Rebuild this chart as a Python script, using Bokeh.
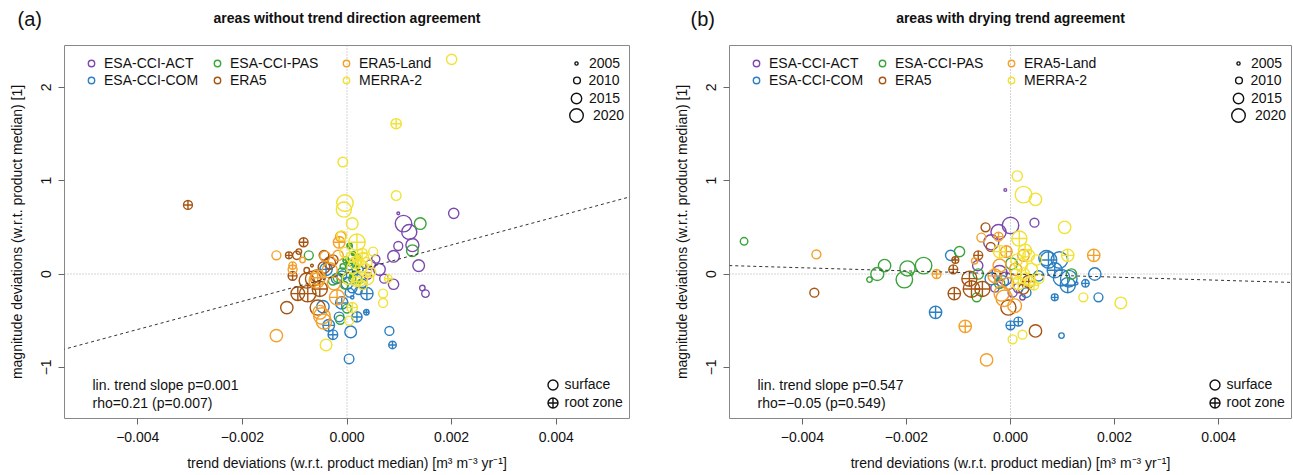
from bokeh.plotting import figure
from bokeh.models import Range1d, FixedTicker, Span, Slope, Label, Legend, LegendItem, ColumnDataSource, Title
from bokeh.layouts import row
from bokeh.embed import file_html
from bokeh.resources import INLINE

FONT = "Liberation Sans"

products = ["ESA-CCI-ACT", "ESA-CCI-COM", "ESA-CCI-PAS", "ERA5", "ERA5-Land", "MERRA-2"]
colors = ["#7b4aae", "#2c7fc0", "#3aa43a", "#a65411", "#f5a02a", "#f1e233"]
legend_years = [2005, 2010, 2015, 2020]

x_ticks = [-0.004, -0.002, 0.0, 0.002, 0.004]
x_tick_labels = ["−0.004", "−0.002", "0.000", "0.002", "0.004"]
y_ticks = [-1, 0, 1, 2]
y_tick_labels = ["−1", "0", "1", "2"]

# points: (trend deviation [1e-3 m3 m-3 yr-1], magnitude deviation, year, layer s=surface r=root zone)
a_act = [(2.04, 0.65, 2015, "s"), (0.98, 0.65, 2004, "s"), (1.08, 0.54, 2024, "s"), (1.19, 0.45, 2022, "s"),
         (1.25, 0.31, 2019, "s"), (0.98, 0.30, 2013, "s"), (0.89, 0.19, 2017, "s"), (1.37, 0.09, 2017, "s"),
         (0.62, 0.05, 2017, "s"), (0.71, -0.05, 2013, "s"), (0.89, -0.11, 2015, "s"), (1.44, -0.15, 2008, "s"),
         (1.50, -0.21, 2011, "s"), (0.45, 0.10, 2014, "s"), (0.55, 0.16, 2012, "s"), (0.40, -0.02, 2010, "s")]
a_com = [(0.04, -0.91, 2014, "s"), (0.81, -0.61, 2013, "s"), (0.87, -0.76, 2011, "r"), (0.38, -0.21, 2018, "r"),
         (0.37, -0.41, 2008, "r"), (0.19, -0.46, 2015, "r"), (0.07, -0.62, 2017, "s"), (-0.35, -0.55, 2017, "r"),
         (-0.27, -0.65, 2014, "r"), (-0.15, -0.46, 2014, "s"), (-0.10, -0.31, 2018, "r"), (-0.46, -0.35, 2018, "s"),
         (-0.40, 0.05, 2018, "r"), (-0.20, -0.05, 2015, "s"), (0.00, -0.10, 2017, "s"), (0.10, -0.15, 2014, "s"),
         (0.20, -0.05, 2013, "s"), (-0.10, -0.02, 2014, "s"), (0.30, -0.10, 2012, "s"), (0.15, 0.00, 2008, "s"),
         (0.10, -0.25, 2005, "s"), (0.05, 0.08, 2010, "s"), (0.25, 0.05, 2009, "s"), (0.22, -0.18, 2011, "s"),
         (0.05, -0.20, 2013, "s")]
a_pas = [(1.40, 0.54, 2017, "s"), (1.25, 0.25, 2017, "s"), (-0.73, 0.20, 2013, "s"), (-0.13, -0.49, 2013, "s"),
         (0.00, -0.37, 2013, "s"), (-0.17, -0.04, 2014, "s"), (-0.27, -0.07, 2013, "s"), (0.05, 0.12, 2009, "s"),
         (0.15, 0.05, 2008, "s"), (0.10, -0.05, 2010, "s"), (-0.10, 0.02, 2012, "s"), (0.20, 0.18, 2008, "s"),
         (-0.05, -0.12, 2011, "s"), (0.25, -0.08, 2006, "s"), (0.05, 0.30, 2008, "r"), (0.12, 0.22, 2006, "r"),
         (-0.02, 0.15, 2009, "r"), (0.08, -0.02, 2005, "r"), (0.18, 0.10, 2006, "r"), (-0.08, 0.08, 2008, "s")]
a_era5 = [(-3.04, 0.74, 2013, "r"), (-1.15, -0.36, 2018, "s"), (-0.56, -0.36, 2022, "s"), (-0.94, -0.21, 2020, "r"),
          (-0.75, -0.21, 2024, "r"), (-0.77, -0.07, 2022, "s"), (-0.52, -0.16, 2022, "r"), (-1.04, -0.02, 2013, "r"),
          (-0.77, 0.04, 2008, "s"), (-0.67, 0.09, 2004, "s"), (-1.11, 0.20, 2010, "r"), (-0.96, 0.20, 2012, "s"),
          (-0.92, 0.24, 2008, "s"), (-0.83, 0.34, 2013, "r"), (-0.44, 0.20, 2014, "s"), (-0.27, 0.15, 2015, "s"),
          (-0.44, 0.07, 2017, "s"), (-0.65, -0.05, 2022, "s"), (-0.58, -0.02, 2017, "s"), (-0.33, 0.12, 2017, "s")]
a_land = [(-1.35, -0.66, 2018, "s"), (-0.48, -0.45, 2024, "s"), (-0.44, -0.51, 2022, "s"), (-0.52, -0.41, 2020, "s"),
          (-0.19, -0.25, 2022, "r"), (-1.04, 0.05, 2013, "s"), (-1.04, 0.09, 2011, "r"), (-1.35, 0.20, 2013, "s"),
          (-0.85, 0.15, 2008, "s"), (-0.15, 0.34, 2017, "r"), (-0.12, 0.40, 2015, "s"), (-0.56, -0.04, 2022, "r"),
          (-0.58, -0.07, 2022, "s"), (-0.42, 0.19, 2015, "s"), (-0.17, 0.20, 2015, "s"), (-0.33, 0.04, 2022, "s"),
          (-0.25, -0.10, 2019, "s")]
a_merra = [(2.00, 2.30, 2015, "s"), (0.94, 1.61, 2015, "r"), (-0.08, 1.20, 2014, "s"), (-0.04, 0.76, 2024, "s"),
           (-0.06, 0.69, 2022, "s"), (0.94, 0.84, 2014, "s"), (0.10, 0.54, 2017, "s"), (-0.10, 0.41, 2014, "s"),
           (0.19, 0.34, 2024, "r"), (0.50, 0.24, 2013, "s"), (-0.04, 0.23, 2015, "s"), (0.29, 0.22, 2015, "r"),
           (0.79, -0.05, 2011, "r"), (0.69, -0.21, 2013, "s"), (0.69, -0.31, 2013, "s"), (-0.40, -0.76, 2017, "s"),
           (0.04, -0.50, 2013, "s"), (0.10, -0.36, 2015, "r"), (0.12, 0.07, 2018, "s"), (0.35, 0.04, 2019, "s"),
           (0.25, -0.05, 2022, "s"), (0.02, -0.05, 2017, "s"), (0.38, 0.12, 2015, "s"), (0.20, 0.15, 2014, "r"),
           (0.45, 0.02, 2015, "s"), (0.30, -0.12, 2013, "s"), (0.15, 0.12, 2017, "s"), (0.28, 0.08, 2018, "s"),
           (0.40, -0.05, 2017, "s"), (0.18, -0.08, 2015, "r"), (0.08, 0.18, 2015, "s"), (0.32, 0.18, 2014, "s")]

b_act = [(-0.10, 0.90, 2004, "s"), (0.46, 0.55, 2013, "s"), (0.00, 0.52, 2024, "s"), (-0.23, 0.45, 2022, "s"),
         (-0.37, 0.34, 2022, "s"), (-0.63, 0.09, 2015, "s"), (-0.21, 0.01, 2022, "s"), (0.23, -0.25, 2008, "s"),
         (0.04, -0.20, 2013, "s"), (-0.10, -0.05, 2019, "s"), (0.15, -0.15, 2014, "s"), (-0.30, -0.15, 2012, "s")]
b_com = [(-1.15, 0.20, 2015, "s"), (-1.44, -0.41, 2018, "r"), (0.00, -0.55, 2013, "r"), (0.15, -0.51, 2013, "r"),
         (0.98, -0.66, 2008, "s"), (0.85, -0.25, 2010, "r"), (1.69, -0.25, 2013, "s"), (1.62, 0.00, 2018, "s"),
         (0.73, 0.15, 2024, "r"), (0.94, 0.15, 2024, "s"), (0.85, 0.04, 2022, "r"), (0.98, -0.04, 2024, "s"),
         (1.10, -0.12, 2022, "r"), (1.44, -0.10, 2011, "r"), (1.27, -0.10, 2004, "s"), (0.54, -0.02, 2015, "s"),
         (-0.37, -0.05, 2018, "s"), (0.69, 0.17, 2022, "s"), (1.12, -0.05, 2024, "s"), (-0.15, -0.08, 2017, "s"),
         (0.30, -0.20, 2014, "s")]
b_pas = [(-5.12, 0.35, 2011, "s"), (-2.42, 0.09, 2018, "s"), (-2.56, 0.00, 2019, "s"), (-2.71, -0.06, 2008, "s"),
         (-1.98, 0.06, 2022, "s"), (-2.04, -0.06, 2024, "s"), (-1.90, 0.00, 2004, "s"), (-1.67, 0.09, 2024, "s"),
         (-0.98, 0.24, 2015, "s"), (-0.62, 0.00, 2015, "s"), (-0.65, -0.25, 2013, "s"), (1.17, 0.00, 2015, "s"),
         (-0.21, -0.10, 2015, "s"), (0.02, 0.11, 2017, "s")]
b_era5 = [(-3.77, -0.20, 2013, "s"), (-0.48, 0.50, 2013, "s"), (-0.38, 0.29, 2013, "s"), (-1.06, 0.15, 2010, "r"),
          (-0.62, 0.20, 2013, "r"), (-1.10, 0.05, 2013, "r"), (-0.79, -0.05, 2022, "r"), (-0.75, -0.16, 2024, "r"),
          (-0.54, -0.16, 2022, "r"), (-1.08, -0.21, 2018, "r"), (-0.04, -0.36, 2022, "s"), (0.48, -0.61, 2018, "s"),
          (0.25, -0.16, 2015, "s"), (0.35, -0.08, 2018, "r")]
b_land = [(-3.73, 0.21, 2013, "s"), (-0.56, 0.39, 2013, "s"), (-0.23, 0.40, 2013, "r"), (-0.08, 0.24, 2017, "r"),
          (0.25, 0.20, 2017, "s"), (-0.69, 0.14, 2009, "s"), (-1.42, 0.00, 2013, "r"), (-0.87, -0.56, 2018, "r"),
          (-0.46, -0.92, 2018, "s"), (-0.17, -0.21, 2022, "s"), (-0.12, -0.26, 2024, "s"), (0.08, -0.34, 2020, "s"),
          (1.60, 0.20, 2018, "r"), (-0.21, 0.09, 2019, "s"), (-0.05, -0.10, 2017, "s"), (0.10, 0.05, 2018, "s"),
          (-0.30, -0.02, 2020, "r")]
b_merra = [(0.13, 1.05, 2015, "s"), (0.25, 0.85, 2024, "s"), (0.48, 0.80, 2018, "s"), (1.04, 0.50, 2018, "s"),
           (0.17, 0.38, 2022, "r"), (-0.21, 0.24, 2018, "r"), (1.10, 0.20, 2018, "r"), (1.40, -0.25, 2013, "s"),
           (2.12, -0.31, 2017, "s"), (0.04, -0.70, 2013, "s"), (0.23, -0.65, 2013, "s"), (0.20, 0.10, 2019, "s"),
           (0.40, 0.05, 2018, "s"), (0.30, -0.05, 2017, "s"), (0.50, 0.15, 2015, "s"), (0.15, -0.10, 2019, "r"),
           (0.55, -0.05, 2014, "s"), (0.35, 0.20, 2017, "s"), (0.10, 0.00, 2015, "s"), (0.45, -0.12, 2014, "r"),
           (0.25, 0.00, 2018, "s"), (0.38, -0.08, 2015, "s"), (0.12, 0.15, 2017, "s"), (0.28, 0.25, 2019, "r")]

# regression lines and stats
a_slope, a_intercept = 151.0, 0.01
b_slope, b_intercept = -16.7, 0.0
a_stats = ["lin. trend slope p=0.001", "rho=0.21 (p=0.007)"]
b_stats = ["lin. trend slope p=0.547", "rho=−0.05 (p=0.549)"]

FRAME_H = 373
NAN = float("nan")


def year_size(y):
    return 3.4 + 0.69 * (y - 2005)


def small_legend(p, renderer, label, cx, cy, size, gap=13, box_h=20):
    # single item legend whose glyph centre sits at (cx, cy) px from frame left/top
    gw = max(1, round(size / 0.4))
    gh = max(gw, box_h)
    leg = Legend(items=[LegendItem(label=label, renderers=[renderer])],
                 location=(cx - gw / 2, FRAME_H - cy - gh / 2),
                 glyph_width=gw, glyph_height=gh, label_height=gh,
                 label_standoff=round(gap - gw / 2), padding=0, margin=0, spacing=0,
                 border_line_color=None, background_fill_alpha=0,
                 label_text_font=FONT, label_text_font_size="14px", label_text_color="#111111")
    p.add_layout(leg)


def key_glyph(p, marker, color):
    # renderer only used to draw a legend key
    return p.scatter(x=[NAN], y=[NAN], marker=marker, size=6, line_color=color,
                     fill_color=None, line_width=1.4)


def make_panel(tag, tag_x, title, groups, slope, intercept, stats, fw, left, right):
    p = figure(frame_width=fw, frame_height=FRAME_H, min_border_left=left, min_border_right=right,
               min_border_top=45, min_border_bottom=57, output_backend="svg", toolbar_location=None,
               x_range=Range1d(-0.0054, 0.0054), y_range=Range1d(-1.548, 2.448))
    # panel tag as the outer title, main title and a spacer stacked beneath it
    p.title.text = tag
    p.title.align = "left"
    p.title.offset = tag_x
    p.title.text_font = FONT
    p.title.text_font_size = "20px"
    p.title.text_font_style = "normal"
    p.title.text_color = "#111111"
    p.title.standoff = -44
    p.add_layout(Title(text=" ", text_font_size="14px", standoff=2), "above")
    p.add_layout(Title(text=title, align="center", text_font=FONT, text_font_size="14px",
                       text_font_style="bold", text_color="#111111", standoff=0), "above")
    p.outline_line_color = "#888888"
    p.xgrid.visible = False
    p.ygrid.visible = False

    for ax in (p.xaxis[0], p.yaxis[0]):
        ax.axis_line_color = None
        ax.minor_tick_line_color = None
        ax.major_tick_in = 0
        ax.major_tick_out = 6
        ax.major_tick_line_color = "#666666"
        ax.major_label_text_font = FONT
        ax.major_label_text_font_size = "14px"
        ax.major_label_text_color = "#111111"
        ax.axis_label_text_font = FONT
        ax.axis_label_text_font_size = "14px"
        ax.axis_label_text_font_style = "normal"
        ax.axis_label_text_color = "#111111"
        ax.major_label_standoff = 7
    p.xaxis.ticker = FixedTicker(ticks=x_ticks)
    p.xaxis.major_label_overrides = dict(zip(x_ticks, x_tick_labels))
    p.xaxis.axis_label = "trend deviations (w.r.t. product median) [m³ m⁻³ yr⁻¹]"
    p.xaxis.axis_label_standoff = 10
    p.yaxis.ticker = FixedTicker(ticks=y_ticks)
    p.yaxis.major_label_overrides = dict(zip(y_ticks, y_tick_labels))
    p.yaxis.major_label_orientation = "vertical"
    p.yaxis.axis_label = "magnitude deviations (w.r.t. product median) [1]"
    p.yaxis.axis_label_standoff = 14

    p.add_layout(Span(location=0, dimension="height", line_color="#aaaaaa", line_dash="1 2", level="underlay"))
    p.add_layout(Span(location=0, dimension="width", line_color="#aaaaaa", line_dash="1 2", level="underlay"))

    for pts, color in zip(groups, colors):
        src = ColumnDataSource(dict(
            x=[q[0] * 1e-3 for q in pts], y=[q[1] for q in pts],
            size=[year_size(q[2]) for q in pts],
            marker=["circle_cross" if q[3] == "r" else "circle" for q in pts]))
        p.scatter("x", "y", source=src, size="size", marker="marker",
                  line_color=color, fill_color=None, line_width=1.4)

    p.add_layout(Slope(gradient=slope, y_intercept=intercept, line_color="#333333",
                       line_dash="3 3", line_width=1))

    # legends
    col_x = [27, 153, 282]
    for i, (name, color) in enumerate(zip(products, colors)):
        small_legend(p, key_glyph(p, "circle", color), name, col_x[i // 2], 18 + 17 * (i % 2), 6.5)
    for j, yr in enumerate(legend_years):
        small_legend(p, key_glyph(p, "circle", "#111111"), str(yr), fw - 53, 18 + 17.4 * j, year_size(yr))
    for j, (name, mk) in enumerate([("surface", "circle"), ("root zone", "circle_cross")]):
        small_legend(p, key_glyph(p, mk, "#111111"), name, fw - 77, 339 + 18 * j, 10)

    for j, s in enumerate(stats):
        p.add_layout(Label(x=28, y=FRAME_H - 339 - 18 * j, x_units="screen", y_units="screen", text=s,
                           text_font=FONT, text_font_size="14px", text_baseline="middle",
                           text_color="#111111"))
    return p


pa = make_panel("(a)", -47, "areas without trend direction agreement",
                [a_act, a_com, a_pas, a_era5, a_land, a_merra], a_slope, a_intercept, a_stats, 565, 64, 29)
pb = make_panel("(b)", -39, "areas with drying trend agreement",
                [b_act, b_com, b_pas, b_era5, b_land, b_merra], b_slope, b_intercept, b_stats, 562, 71, 2)

layout = row(pa, pb)
open("out.html", "w").write(file_html(layout, INLINE))
